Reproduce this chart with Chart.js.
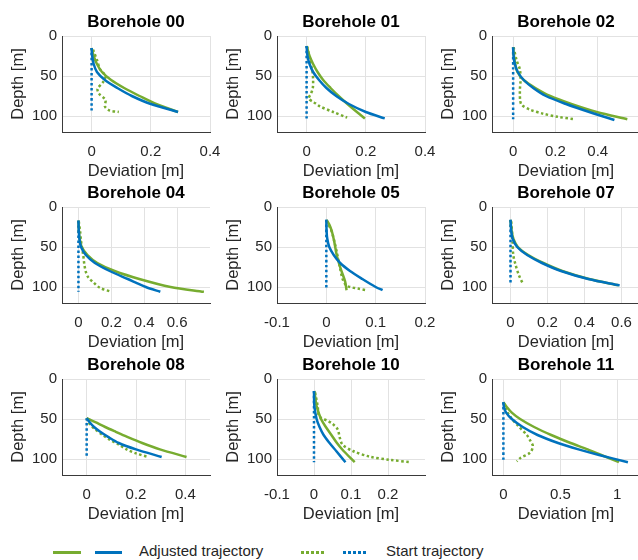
<!DOCTYPE html>
<html>
<head>
<meta charset="utf-8">
<title>Borehole trajectories</title>
<script src="https://cdn.jsdelivr.net/npm/chart.js@4/dist/chart.umd.min.js"></script>
<style>
  html, body { margin: 0; padding: 0; background: #fff; }
  body {
    position: relative;
    width: 638px;
    height: 560px;
    overflow: hidden;
    font-family: "Liberation Sans", Arial, sans-serif;
  }
  canvas.panel { position: absolute; }
  .key-line { position: absolute; top: 551px; height: 3px; }
  .key-text { position: absolute; top: 542px; font-size: 15px; line-height: 18px; color: #262626; white-space: nowrap; }
</style>
</head>
<body>

<div class="key-line" style="left:53px;width:28px;background:#77AC30"></div>
<div class="key-line" style="left:95px;width:27px;background:#0072BD"></div>
<div class="key-text" style="left:139px">Adjusted trajectory</div>
<div class="key-line" style="left:301px;width:24px;background:repeating-linear-gradient(to right,#77AC30 0 3px,transparent 3px 5px)"></div>
<div class="key-line" style="left:343px;width:24px;background:repeating-linear-gradient(to right,#0072BD 0 3px,transparent 3px 5px)"></div>
<div class="key-text" style="left:386px">Start trajectory</div>

<script>
// One panel per borehole, 3 x 3 grid
const boreholes = ['00', '01', '02', '04', '05', '07', '08', '10', '11'];

// Deviation axis range and labelled ticks for each panel
const devLimits = [
    [-0.1, 0.4], [-0.1, 0.4], [-0.1, 0.6],
    [-0.1, 0.8], [-0.1, 0.2], [-0.1, 0.7],
    [-0.1, 0.5], [-0.1, 0.3], [-0.1, 1.2]
];
const devTicks = [
    [0, 0.2, 0.4], [0, 0.2, 0.4], [0, 0.2, 0.4],
    [0, 0.2, 0.4, 0.6], [-0.1, 0, 0.1, 0.2], [0, 0.2, 0.4, 0.6],
    [0, 0.2, 0.4], [-0.1, 0, 0.1, 0.2], [0, 0.5, 1]
];
const depthTicks = [0, 50, 100];
const depthMax = 120;

// All trajectories below are [depth m, deviation m] pairs, one row per borehole

const adjustedGreen = [
    [[15, 0], [25, 0.007], [35, 0.018], [45, 0.035], [55, 0.066], [65, 0.11], [75, 0.162], [85, 0.218], [95, 0.292]],
    [[12.5, 0], [25, 0.01], [35, 0.022], [45, 0.037], [55, 0.056], [65, 0.081], [75, 0.108], [85, 0.138], [95, 0.17], [103, 0.197]],
    [[14, 0], [25, 0.004], [35, 0.01], [45, 0.02], [55, 0.05], [65, 0.105], [75, 0.175], [85, 0.275], [95, 0.395], [104, 0.54]],
    [[17, 0], [30, 0.003], [40, 0.008], [50, 0.02], [60, 0.055], [70, 0.115], [80, 0.22], [90, 0.37], [100, 0.56], [106, 0.763]],
    [[16, 0], [22, 0.006], [30, 0.011], [43, 0.016], [60, 0.021], [77, 0.029], [93, 0.038], [104, 0.041]],
    [[16, 0], [30, 0.006], [40, 0.016], [50, 0.04], [60, 0.096], [70, 0.178], [80, 0.28], [90, 0.425], [98, 0.585]],
    [[49, 0], [54, 0.035], [60, 0.075], [66, 0.118], [72, 0.162], [80, 0.225], [88, 0.297], [97.5, 0.405]],
    [[15, 0.001], [25, 0.004], [34, 0.007], [50, 0.019], [60, 0.032], [70, 0.047], [80, 0.062], [90, 0.08], [104, 0.11]],
    [[29, 0], [35, 0.03], [42, 0.074], [50, 0.147], [60, 0.27], [70, 0.42], [80, 0.59], [88, 0.74], [95, 0.86], [104, 1.015]]
];

const adjustedBlue = [
    [[15, 0], [25, 0.002], [35, 0.007], [45, 0.018], [55, 0.045], [65, 0.087], [75, 0.136], [85, 0.2], [95, 0.292]],
    [[12.5, 0], [25, 0.003], [35, 0.01], [45, 0.022], [55, 0.042], [65, 0.067], [75, 0.1], [85, 0.143], [95, 0.2], [103, 0.264]],
    [[14, 0], [25, 0.002], [35, 0.008], [45, 0.022], [55, 0.05], [65, 0.095], [75, 0.155], [85, 0.25], [95, 0.36], [105, 0.479]],
    [[17, 0], [30, 0.002], [40, 0.006], [50, 0.016], [60, 0.045], [70, 0.1], [80, 0.19], [90, 0.3], [100, 0.41], [106, 0.498]],
    [[16, 0], [30, 0.0005], [40, 0.002], [50, 0.006], [60, 0.015], [70, 0.028], [80, 0.048], [90, 0.073], [100, 0.1], [104, 0.114]],
    [[16, 0], [30, 0.004], [40, 0.012], [50, 0.036], [60, 0.09], [70, 0.17], [80, 0.273], [90, 0.42], [98, 0.59]],
    [[49, 0], [54, 0.012], [60, 0.03], [66, 0.055], [72, 0.085], [80, 0.13], [88, 0.2], [97.5, 0.304]],
    [[15, 0], [34, 0.001], [50, 0.007], [60, 0.015], [70, 0.026], [80, 0.042], [90, 0.06], [104, 0.085]],
    [[29, 0], [35, 0.005], [42, 0.024], [50, 0.074], [60, 0.17], [70, 0.3], [80, 0.48], [88, 0.66], [95, 0.84], [104, 1.094]]
];

const startGreen = [
    [[17, 0.005], [30, 0.018], [42, 0.029], [50, 0.047], [58, 0.038], [66, 0.02], [72, 0.025], [80, 0.047], [88, 0.045], [93, 0.06], [95, 0.092]],
    [[13, 0.002], [30, 0.011], [45, 0.02], [55, 0.022], [65, 0.021], [72, 0.015], [78, 0.007], [83, 0.025], [88, 0.045], [95, 0.09], [102, 0.137]],
    [[14, 0.002], [30, 0.016], [42, 0.032], [55, 0.035], [67, 0.032], [80, 0.033], [86, 0.04], [92, 0.079], [97, 0.14], [101, 0.21], [104, 0.289]],
    [[18, 0.002], [30, 0.01], [43, 0.016], [60, 0.029], [72, 0.036], [81, 0.045], [88, 0.06], [94, 0.09], [101, 0.13], [106, 0.2]],
    [[17, 0.001], [31, 0.011], [45, 0.017], [56, 0.021], [77, 0.028], [90, 0.033], [98, 0.04], [100, 0.048], [102, 0.064], [104, 0.082]],
    [[18, 0.004], [30, 0.008], [43, 0.011], [60, 0.015], [72, 0.027], [85, 0.045], [97, 0.069]],
    [[49, 0], [56, 0.012], [63, 0.035], [70, 0.065], [76, 0.095], [82, 0.13], [88, 0.162], [93, 0.2], [97.5, 0.25]],
    [[17, 0.003], [34, 0.01], [46, 0.013], [49, 0.02], [52, 0.036], [56, 0.05], [63, 0.064], [74, 0.07], [82, 0.077], [90, 0.105], [97, 0.15], [101, 0.204], [104, 0.262]],
    [[30, 0.003], [40, 0.03], [47, 0.059], [59, 0.132], [70, 0.206], [78, 0.24], [84, 0.259], [92, 0.235], [99, 0.147], [103, 0.118]]
];

const startBlue = [
    [[15, 0], [95, 0]],
    [[12.5, 0], [103, 0]],
    [[14, 0], [104, 0]],
    [[17, 0], [106, 0]],
    [[16, 0], [102, 0]],
    [[16, 0], [96, 0]],
    [[49, 0], [97.5, 0]],
    [[15, 0], [104, 0]],
    [[29, 0], [104, 0]]
];

const GREEN = '#77AC30';
const BLUE = '#0072BD';
const TEXT = '#262626';
const GRID = '#e2e2e2';
const AXIS = '#3a3a3a';
const FONT = '"Liberation Sans", Arial, sans-serif';

Chart.defaults.font.family = FONT;

// canvas placement for the 3 x 3 grid
const colLeft = [0, 215, 430];
const rowTop = [0, 171, 343];

function toPoints(pairs) {
    return pairs.map(p => ({ x: p[1], y: p[0] }));
}

function lineSet(pairs, color, dotted) {
    return {
        data: toPoints(pairs),
        showLine: true,
        borderColor: color,
        backgroundColor: color,
        borderWidth: 2.5,
        borderDash: dotted ? [2.5, 2.5] : [],
        borderCapStyle: 'butt',
        pointRadius: 0,
        tension: 0.3,
        fill: false
    };
}

function tickText(v) {
    return String(Math.round(v * 10) / 10);
}

function makePanel(i) {
    const canvas = document.createElement('canvas');
    canvas.className = 'panel';
    canvas.width = 232;
    canvas.height = 185;
    canvas.style.left = colLeft[i % 3] + 'px';
    canvas.style.top = rowTop[Math.floor(i / 3)] + 'px';
    document.body.appendChild(canvas);

    new Chart(canvas.getContext('2d'), {
        type: 'scatter',
        data: {
            datasets: [
                lineSet(adjustedBlue[i], BLUE, false),
                lineSet(adjustedGreen[i], GREEN, false),
                lineSet(startBlue[i], BLUE, true),
                lineSet(startGreen[i], GREEN, true)
            ]
        },
        options: {
            responsive: false,
            animation: false,
            layout: { padding: { left: 0, right: 22, top: 0, bottom: 3 } },
            plugins: {
                legend: { display: false },
                tooltip: { enabled: false },
                title: {
                    display: true,
                    fullSize: false,
                    text: 'Borehole ' + boreholes[i],
                    color: '#000',
                    font: { size: 17, weight: 'bold' },
                    padding: { top: 12, bottom: 3.6 }
                }
            },
            scales: {
                x: {
                    type: 'linear',
                    min: devLimits[i][0],
                    max: devLimits[i][1],
                    afterBuildTicks: s => { s.ticks = devTicks[i].map(v => ({ value: v })); },
                    afterFit: s => { s.height = 50; },
                    grid: { color: GRID, drawTicks: false },
                    border: { color: AXIS, width: 1 },
                    ticks: {
                        color: TEXT,
                        font: { size: 15 },
                        padding: 11,
                        maxRotation: 0,
                        callback: v => tickText(v)
                    },
                    title: {
                        display: true,
                        text: 'Deviation [m]',
                        color: TEXT,
                        font: { size: 16.5 },
                        padding: { top: 0, bottom: 1 }
                    }
                },
                y: {
                    type: 'linear',
                    reverse: true,
                    min: 0,
                    max: depthMax,
                    afterBuildTicks: s => { s.ticks = depthTicks.map(v => ({ value: v })); },
                    afterFit: s => { s.width = 62; },
                    grid: { color: GRID, drawTicks: false },
                    border: { color: AXIS, width: 1 },
                    ticks: {
                        color: TEXT,
                        font: { size: 15 },
                        padding: 5,
                        callback: v => tickText(v)
                    },
                    title: {
                        display: true,
                        text: 'Depth [m]',
                        color: TEXT,
                        font: { size: 16.5 },
                        padding: { top: 8.4, bottom: 0 }
                    }
                }
            }
        }
    });
}

boreholes.forEach((name, i) => makePanel(i));
</script>
</body>
</html>
